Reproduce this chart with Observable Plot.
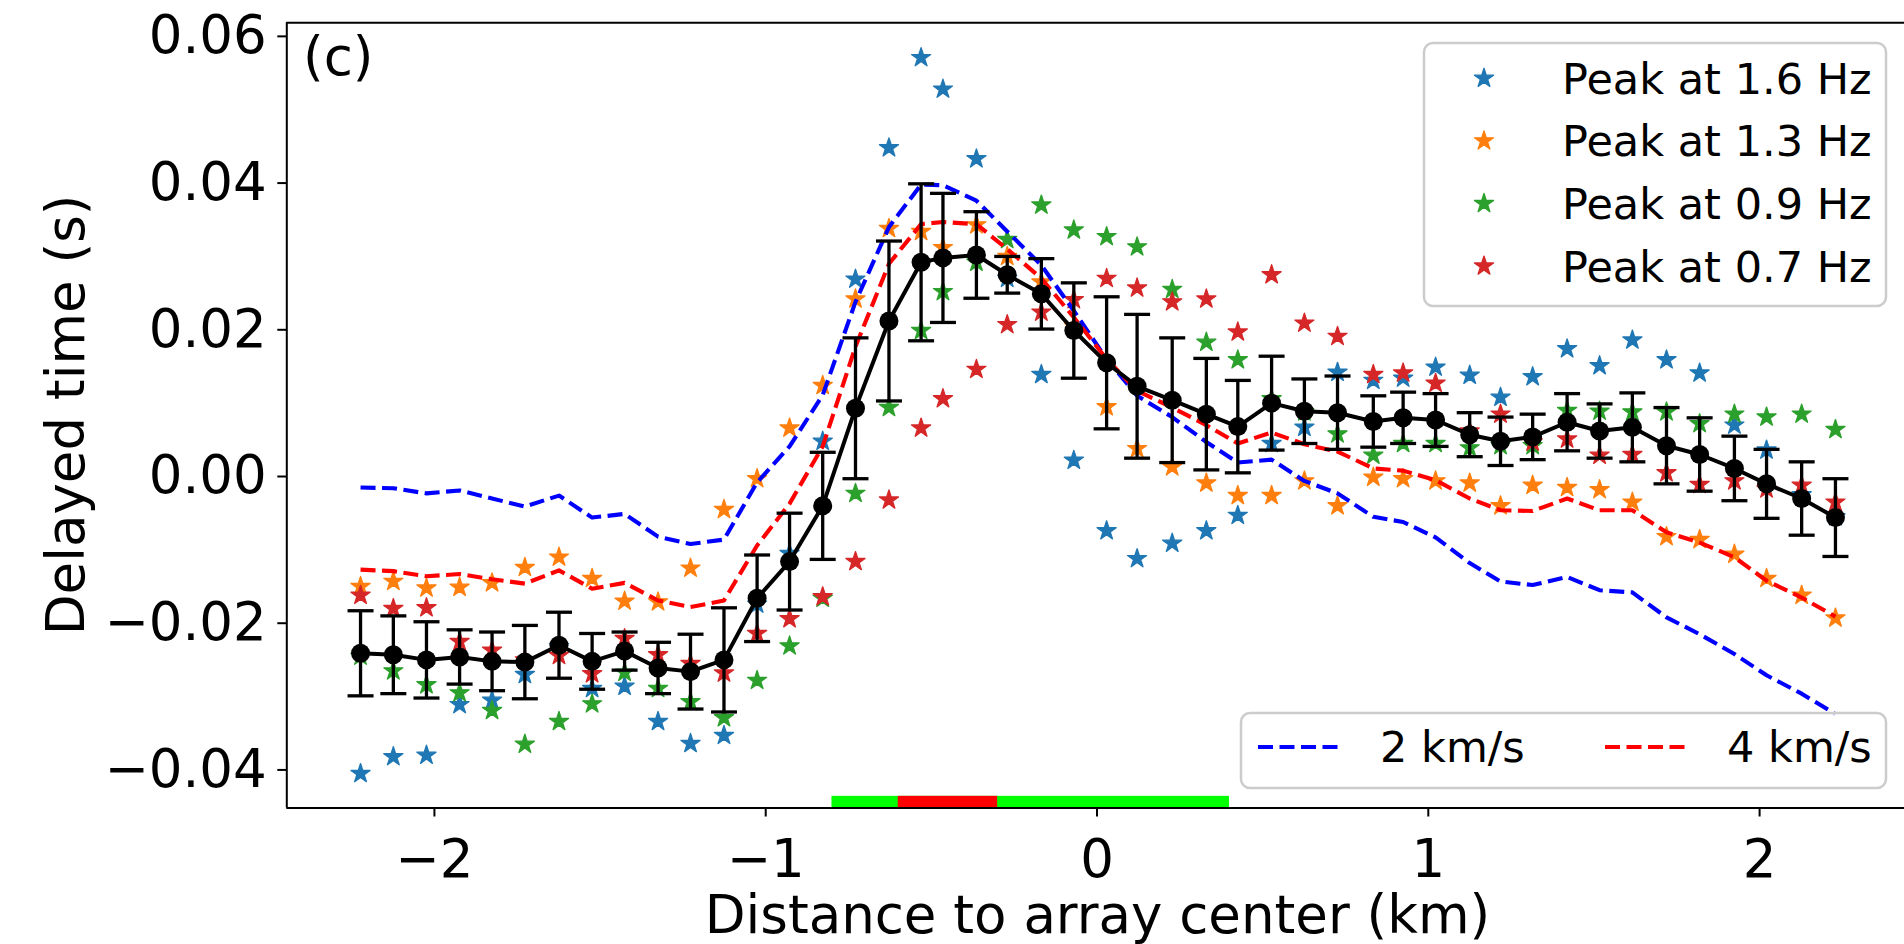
<!DOCTYPE html>
<html>
<head>
<meta charset="utf-8">
<script src="https://cdn.jsdelivr.net/npm/d3@7"></script>
<script src="https://cdn.jsdelivr.net/npm/@observablehq/plot@0.6"></script>
<style>
html, body { margin: 0; padding: 0; background: #fff; overflow: hidden; }
#chart svg { display: block; }
</style>
</head>
<body>
<div id="chart"></div>
<script>
// ---------------- data ----------------
const distance = [-2.223, -2.124, -2.024, -1.924, -1.826, -1.727, -1.624, -1.524, -1.426, -1.325,
  -1.227, -1.126, -1.026, -0.928, -0.828, -0.729, -0.628, -0.531, -0.465, -0.364,
  -0.271, -0.168, -0.070, 0.029, 0.121, 0.227, 0.330, 0.425, 0.527, 0.626,
  0.726, 0.834, 0.924, 1.022, 1.125, 1.218, 1.315, 1.419, 1.517, 1.616,
  1.719, 1.819, 1.924, 2.021, 2.127, 2.229];

const meanDelay = [-0.0241, -0.0243, -0.0250, -0.0246, -0.0252, -0.0253, -0.0230, -0.0252, -0.0238, -0.0261,
  -0.0266, -0.0250, -0.0166, -0.0116, -0.0040, 0.0093, 0.0212, 0.0292, 0.0298, 0.0302,
  0.0275, 0.0249, 0.0199, 0.0155, 0.0123, 0.0104, 0.0085, 0.0068, 0.0100, 0.0089,
  0.0087, 0.0075, 0.0080, 0.0077, 0.0057, 0.0048, 0.0054, 0.0074, 0.0062, 0.0067,
  0.0042, 0.0030, 0.0011, -0.0010, -0.0030, -0.0056];

const stdDelay = [0.0058, 0.0053, 0.0052, 0.0037, 0.0040, 0.0050, 0.0045, 0.0038, 0.0026, 0.0035,
  0.0051, 0.0071, 0.0059, 0.0066, 0.0073, 0.0096, 0.0109, 0.0107, 0.0088, 0.0059,
  0.0025, 0.0048, 0.0065, 0.0090, 0.0098, 0.0085, 0.0076, 0.0063, 0.0064, 0.0044,
  0.0050, 0.0035, 0.0035, 0.0036, 0.0030, 0.0033, 0.0031, 0.0039, 0.0037, 0.0047,
  0.0052, 0.0050, 0.0044, 0.0047, 0.0050, 0.0053];

const peak16 = [-0.0405, -0.0382, -0.0380, -0.0311, -0.0305, -0.0270, -0.0232, -0.0289, -0.0286, -0.0334,
  -0.0364, -0.0353, -0.0174, -0.0105, 0.0048, 0.0269, 0.0448, 0.0571, 0.0528, 0.0433,
  0.0270, 0.0139, 0.0022, -0.0074, -0.0112, -0.0091, -0.0074, -0.0053, 0.0045, 0.0067,
  0.0142, 0.0131, 0.0134, 0.0149, 0.0138, 0.0108, 0.0136, 0.0174, 0.0151, 0.0186,
  0.0159, 0.0141, 0.0070, 0.0036, -0.0025, -0.0055];

const peak13 = [-0.0150, -0.0143, -0.0152, -0.0151, -0.0145, -0.0124, -0.0110, -0.0139, -0.0170, -0.0171,
  -0.0125, -0.0045, -0.0003, 0.0066, 0.0124, 0.0242, 0.0338, 0.0334, 0.0312, 0.0343,
  0.0300, 0.0265, 0.0205, 0.0095, 0.0038, 0.0013, -0.0009, -0.0026, -0.0026, -0.0006,
  -0.0040, -0.0001, -0.0003, -0.0006, -0.0009, -0.0040, -0.0012, -0.0015, -0.0018, -0.0035,
  -0.0082, -0.0086, -0.0106, -0.0139, -0.0162, -0.0193];

const peak09 = [-0.0245, -0.0265, -0.0284, -0.0295, -0.0319, -0.0365, -0.0334, -0.0310, -0.0267, -0.0289,
  -0.0307, -0.0329, -0.0278, -0.0231, -0.0166, -0.0023, 0.0094, 0.0199, 0.0252, 0.0292,
  0.0323, 0.0370, 0.0336, 0.0327, 0.0313, 0.0255, 0.0183, 0.0159, 0.0106, 0.0088,
  0.0058, 0.0029, 0.0045, 0.0045, 0.0039, 0.0042, 0.0042, 0.0090, 0.0089, 0.0088,
  0.0088, 0.0072, 0.0085, 0.0081, 0.0085, 0.0064];

const peak07 = [-0.0162, -0.0180, -0.0179, -0.0225, -0.0237, -0.0250, -0.0244, -0.0269, -0.0221, -0.0243,
  -0.0255, -0.0268, -0.0214, -0.0194, -0.0164, -0.0116, -0.0032, 0.0066, 0.0106, 0.0146,
  0.0207, 0.0224, 0.0241, 0.0270, 0.0257, 0.0238, 0.0242, 0.0197, 0.0275, 0.0209,
  0.0191, 0.0139, 0.0141, 0.0127, 0.0062, 0.0085, 0.0047, 0.0051, 0.0029, 0.0030,
  0.0005, -0.0011, -0.0006, -0.0017, -0.0012, -0.0035];

const vel2 = [-0.0015, -0.0016, -0.0023, -0.0019, -0.0030, -0.0041, -0.0026, -0.0056, -0.0051, -0.0082,
  -0.0092, -0.0086, -0.0008, 0.0041, 0.0111, 0.0238, 0.0340, 0.0398, 0.0397, 0.0376,
  0.0334, 0.0288, 0.0226, 0.0160, 0.0110, 0.0081, 0.0047, 0.0019, 0.0023, -0.0006,
  -0.0023, -0.0055, -0.0062, -0.0083, -0.0118, -0.0143, -0.0148, -0.0137, -0.0155, -0.0158,
  -0.0192, -0.0215, -0.0242, -0.0271, -0.0296, -0.0324];

const vel4 = [-0.0127, -0.0129, -0.0136, -0.0133, -0.0140, -0.0146, -0.0128, -0.0153, -0.0145, -0.0169,
  -0.0178, -0.0169, -0.0094, -0.0037, 0.0041, 0.0177, 0.0290, 0.0344, 0.0347, 0.0344,
  0.0310, 0.0270, 0.0217, 0.0160, 0.0117, 0.0094, 0.0070, 0.0045, 0.0060, 0.0044,
  0.0034, 0.0011, 0.0008, -0.0005, -0.0030, -0.0046, -0.0047, -0.0030, -0.0046, -0.0046,
  -0.0076, -0.0090, -0.0110, -0.0142, -0.0165, -0.0191];

const peakLabels = ["Peak at 1.6 Hz", "Peak at 1.3 Hz", "Peak at 0.9 Hz", "Peak at 0.7 Hz"];
const peakSeries = [peak16, peak13, peak09, peak07];
const peakColors = ["#1f77b4", "#ff7f0e", "#2ca02c", "#d62728"];

const velLabels = ["2 km/s", "4 km/s"];
const velColors = ["#0000ff", "#ff0000"];

const zoneStart = [-0.8, -0.6];
const zoneEnd = [0.4, -0.3];
const zoneColors = ["#00ff00", "#ff0000"];

const xTicks = [-2, -1, 0, 1, 2];
const yTicks = [-0.04, -0.02, 0.00, 0.02, 0.04, 0.06];

const panelLabel = "(c)";
const xLabel = "Distance to array center (km)";
const yLabel = "Delayed time (s)";

// ---------------- layout ----------------
const W = 1904, H = 944;
const mL = 286.3, mT = 22.3, mB = 136.5;
const xDomain = [-2.4456, 2.4516];
const xRange = [mL, 1908.7];
const yDomain = [-0.04519, 0.06185];
const zoneTop = -0.0436;
const FONT = "DejaVu Sans";

const rows = distance.map((x, i) => ({
  x, mean: meanDelay[i], lo: meanDelay[i] - stdDelay[i], hi: meanDelay[i] + stdDelay[i],
  v2: vel2[i], v4: vel4[i]
}));
const zones = zoneStart.map((s, i) => ({ s, e: zoneEnd[i], c: zoneColors[i] }));

const capSymbol = {
  draw(context, size) {
    const w = Math.sqrt(size / Math.PI);
    context.moveTo(-w, 0);
    context.lineTo(w, 0);
  }
};

const dash = "15,6.5";
const dashW = 4.1;
const starR = 6.0;
const starStroke = 1.3;

const starMarks = peakSeries.map((vals, k) =>
  Plot.dot(distance.map((x, i) => ({ x, y: vals[i] })), {
    x: "x", y: "y", symbol: "star", r: starR, fill: peakColors[k], stroke: peakColors[k],
    strokeWidth: starStroke, strokeLinejoin: "round"
  })
);

const chart = Plot.plot({
  width: W, height: H,
  marginLeft: mL, marginTop: mT, marginBottom: mB, marginRight: 0,
  style: { fontFamily: FONT, background: "white", color: "black" },
  x: { domain: xDomain, range: xRange },
  y: { domain: yDomain },
  marks: [
    Plot.rect(zones, { x1: "s", x2: "e", y1: yDomain[0], y2: zoneTop, fill: "c" }),
    ...starMarks,
    Plot.line(rows, { x: "x", y: "v2", stroke: velColors[0], strokeWidth: dashW, strokeDasharray: dash, strokeLinecap: "butt", strokeLinejoin: "round" }),
    Plot.line(rows, { x: "x", y: "v4", stroke: velColors[1], strokeWidth: dashW, strokeDasharray: dash, strokeLinecap: "butt", strokeLinejoin: "round" }),
    Plot.ruleX(rows, { x: "x", y1: "lo", y2: "hi", stroke: "black", strokeWidth: 3.3 }),
    Plot.dot(rows, { x: "x", y: "hi", symbol: capSymbol, r: 13, fill: "none", stroke: "black", strokeWidth: 3.3 }),
    Plot.dot(rows, { x: "x", y: "lo", symbol: capSymbol, r: 13, fill: "none", stroke: "black", strokeWidth: 3.3 }),
    Plot.line(rows, { x: "x", y: "mean", stroke: "black", strokeWidth: 4 }),
    Plot.dot(rows, { x: "x", y: "mean", r: 9.5, fill: "black" }),
    Plot.ruleY([yDomain[0], yDomain[1]], { stroke: "black", strokeWidth: 2 }),
    Plot.ruleX([xDomain[0]], { stroke: "black", strokeWidth: 2 }),
    Plot.axisY(yTicks, { anchor: "left", tickFormat: d3.format(".2f"), fontSize: 53, tickSize: 9, tickPadding: 11, strokeWidth: 2, label: null }),
    Plot.axisX(xTicks, { anchor: "bottom", tickFormat: d3.format("d"), fontSize: 53, tickSize: 9, tickPadding: 22, strokeWidth: 2, label: null })
  ]
});

document.getElementById("chart").appendChild(chart);

// ---------------- annotations & legends ----------------
const svg = d3.select(chart);
const g = svg.append("g").attr("font-family", FONT).attr("fill", "black").attr("text-anchor", "start");

g.append("text").attr("x", 303).attr("y", 75).attr("font-size", 53).attr("text-anchor", "start").text(panelLabel);
g.append("text").attr("x", 1097.5).attr("y", 933).attr("font-size", 53).attr("text-anchor", "middle").text(xLabel);
g.append("text").attr("transform", "translate(84,414.9) rotate(-90)").attr("font-size", 53)
  .attr("text-anchor", "middle").text(yLabel);

// legend 1 (stars)
const l1 = g.append("g");
l1.append("rect").attr("x", 1424).attr("y", 43).attr("width", 462).attr("height", 263).attr("rx", 9)
  .attr("fill", "white").attr("fill-opacity", 0.8).attr("stroke", "#cccccc").attr("stroke-width", 2.5);
const starPath = d3.symbol(d3.symbolStar, Math.PI * starR * starR)();
peakLabels.forEach((lab, k) => {
  const yy = 78.3 + k * 62.6;
  l1.append("path").attr("d", starPath).attr("transform", `translate(1484,${yy})`)
    .attr("fill", peakColors[k]).attr("stroke", peakColors[k]).attr("stroke-width", starStroke)
    .attr("stroke-linejoin", "round");
  l1.append("text").attr("x", 1562).attr("y", yy).attr("dy", "0.36em").attr("font-size", 43)
    .attr("text-anchor", "start").text(lab);
});

// legend 2 (velocities)
const l2 = g.append("g");
l2.append("rect").attr("x", 1241).attr("y", 713).attr("width", 645).attr("height", 75).attr("rx", 9)
  .attr("fill", "white").attr("fill-opacity", 0.8).attr("stroke", "#cccccc").attr("stroke-width", 2.5);
const l2x = [1258, 1605];
velLabels.forEach((lab, k) => {
  l2.append("line").attr("x1", l2x[k]).attr("x2", l2x[k] + 84).attr("y1", 747).attr("y2", 747)
    .attr("stroke", velColors[k]).attr("stroke-width", dashW).attr("stroke-dasharray", dash);
  l2.append("text").attr("x", l2x[k] + 122).attr("y", 747).attr("dy", "0.36em").attr("font-size", 43)
    .attr("text-anchor", "start").text(lab);
});
</script>
</body>
</html>
